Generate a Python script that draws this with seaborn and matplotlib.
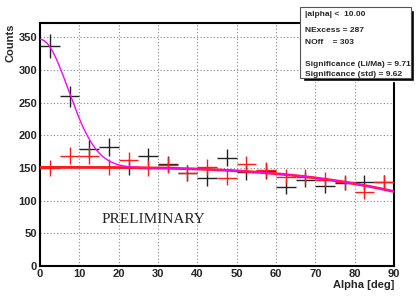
import numpy as np
import pandas as pd
import seaborn as sns
import matplotlib.pyplot as plt
from matplotlib.patches import Rectangle
from matplotlib.ticker import MultipleLocator

# alpha bins (5 deg wide) and counts
alpha = np.arange(2.5, 90, 5.0)
n_on = [337, 260, 179, 182, 151, 168, 156, 142, 134, 166, 144, 145, 121, 132, 123, 127, 128, 128]
n_off = [150, 169, 169, 152, 162, 150, 155, 142, 151, 135, 156, 147, 137, 137, 132, 128, 113, 128]

# fit parameters estimated from the curves
bg_p0, bg_drop, bg_pow = 151.0, 37.0, 3.3
sig_amp, sig_width = 196.0, 7.2

stats_lines = ["|alpha| <  10.00", "", "NExcess = 287", "NOff    = 303", "",
               "Significance (Li/Ma) = 9.71", "Significance (std) = 9.62"]

sns.set_style("white")
plt.rcParams['font.family'] = ['Liberation Sans', 'DejaVu Sans']

fig = plt.figure(figsize=(4.18, 2.99), dpi=100)
ax = fig.add_axes([40/418, 33/299, 354/418, 243/299])

xs = np.linspace(0, 90, 400)
bg = bg_p0 - bg_drop * (xs / 90) ** bg_pow
fits = pd.DataFrame({"alpha": xs, "bg": bg,
                     "total": bg + sig_amp * np.exp(-xs**2 / (2 * sig_width**2))})

ax.errorbar(alpha, n_on, xerr=2.5, yerr=np.sqrt(n_on), fmt='none',
            ecolor='#222222', elinewidth=1.0, zorder=3)
ax.errorbar(alpha, n_off, xerr=2.5, yerr=np.sqrt(n_off), fmt='none',
            ecolor='#ff1a1a', elinewidth=1.0, zorder=4)
sns.lineplot(data=fits, x="alpha", y="bg", ax=ax, color='#ff1a1a', lw=2.0, zorder=5)
sns.lineplot(data=fits, x="alpha", y="total", ax=ax, color='#ff00ff', lw=1.0, zorder=6)

ax.set_xlim(0, 90)
ax.set_ylim(0, 372)
ax.xaxis.set_major_locator(MultipleLocator(10))
ax.xaxis.set_minor_locator(MultipleLocator(2))
ax.yaxis.set_major_locator(MultipleLocator(50))
ax.yaxis.set_minor_locator(MultipleLocator(10))
ax.tick_params(which='both', direction='in', top=False, right=False,
               labelsize=8, pad=2, color='black')
ax.tick_params(which='major', length=7, width=1.0)
ax.tick_params(which='minor', length=3.5, width=1.0)
for lab in ax.get_xticklabels() + ax.get_yticklabels():
    lab.set_fontweight('bold')
ax.grid(True, which='major', ls=(0, (1, 2)), color='#888888', lw=0.8)
for sp in ax.spines.values():
    sp.set_color('black')
    sp.set_linewidth(1.5)

ax.set_xlabel("Alpha [deg]", fontsize=8, fontweight='bold', loc='right', labelpad=1)
ax.set_ylabel("Counts", fontsize=8, fontweight='bold', loc='top', labelpad=2)

ax.text(0.175, 0.19, "PRELIMINARY", transform=ax.transAxes, fontsize=11,
        family='Liberation Serif', va='center', ha='left')

# stats box (figure pixel coords)
W, H = 418, 299
bx0, by0, bw, bh = 300, 7, 111, 71
fig.patches.append(Rectangle(((bx0 + 3) / W, 1 - (by0 + bh + 3) / H), bw / W, bh / H,
                             transform=fig.transFigure, facecolor='black', zorder=10))
fig.patches.append(Rectangle((bx0 / W, 1 - (by0 + bh) / H), bw / W, bh / H,
                             transform=fig.transFigure, facecolor='white',
                             edgecolor='#555555', lw=0.8, zorder=11))
line_y = [14, 23, 31, 42, 54, 65, 74]
for txt, yy in zip(stats_lines, line_y):
    if txt:
        fig.text(305 / W, 1 - yy / H, txt, fontsize=6, fontweight='bold',
                 va='center', ha='left', zorder=12)

fig.savefig("out.png", dpi=100)
